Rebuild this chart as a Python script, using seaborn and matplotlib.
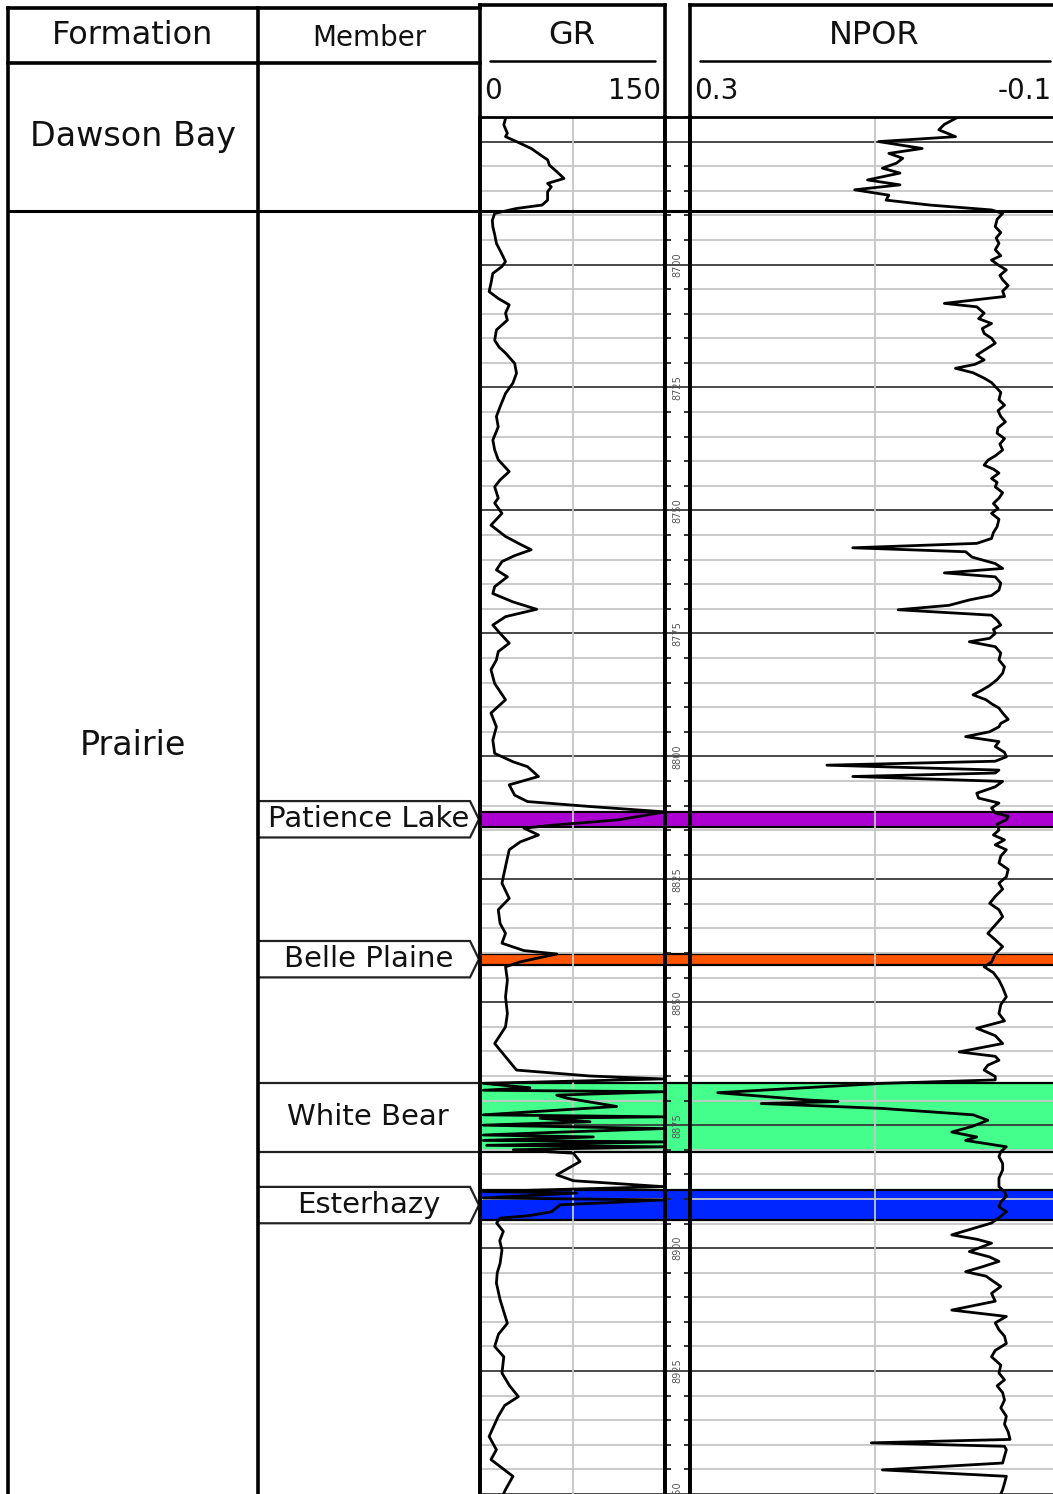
import numpy as np
import pandas as pd
import matplotlib
matplotlib.use("Agg")
import matplotlib.pyplot as plt
from matplotlib.patches import Polygon
import seaborn as sns

# ---------------- data ----------------
# GR log: (depth ft, GR API)
gr_points = [
    (8670.0, 21.0), (8670.3, 20.7), (8671.6, 19.3), (8673.3, 22.2), (8674.0, 20.7),
    (8675.0, 29.6), (8676.4, 41.5), (8677.7, 48.9), (8678.7, 54.8), (8679.8, 56.3),
    (8681.1, 62.2), (8682.5, 68.1), (8683.5, 54.8), (8684.2, 57.8), (8685.2, 54.8),
    (8686.9, 54.8), (8687.9, 50.4), (8688.6, 29.6), (8689.6, 11.9), (8691.0, 10.0),
    (8692.3, 10.4), (8694.0, 12.0), (8695.7, 13.3), (8697.5, 17.0), (8699.4, 20.7),
    (8700.4, 17.8), (8701.8, 10.4), (8703.8, 8.9), (8705.5, 7.4), (8706.9, 14.8),
    (8708.2, 23.7), (8709.9, 20.7), (8711.3, 22.2), (8713.3, 13.3), (8715.4, 11.9),
    (8716.8, 15.5), (8718.0, 20.7), (8720.1, 28.1), (8722.1, 29.6), (8724.1, 26.7),
    (8726.2, 20.7), (8728.9, 16.3), (8730.9, 13.3), (8733.0, 14.8), (8735.7, 10.4),
    (8737.7, 11.9), (8739.7, 14.8), (8742.1, 23.7), (8743.8, 16.3), (8745.2, 11.9),
    (8747.5, 14.8), (8748.5, 11.9), (8750.6, 17.8), (8753.0, 8.9), (8755.3, 20.7),
    (8756.8, 32.0), (8758.0, 41.5), (8759.2, 28.0), (8760.4, 17.8), (8762.1, 13.3),
    (8763.5, 22.2), (8765.5, 11.9), (8766.9, 10.4), (8768.6, 26.7), (8770.1, 45.9),
    (8771.6, 20.7), (8773.3, 10.4), (8775.0, 16.3), (8777.0, 23.7), (8778.7, 14.8),
    (8780.4, 13.3), (8782.4, 8.9), (8785.2, 11.9), (8788.5, 20.7), (8791.2, 8.9),
    (8794.0, 13.3), (8796.7, 10.4), (8799.4, 11.9), (8801.1, 26.7), (8802.1, 38.5),
    (8804.1, 47.4), (8805.8, 23.7), (8807.9, 28.1), (8809.2, 38.5), (8810.2, 88.9),
    (8811.3, 150.0), (8812.9, 112.6), (8814.0, 59.3), (8814.6, 35.6), (8816.0, 47.4),
    (8817.4, 32.6), (8819.0, 23.7), (8822.4, 20.7), (8825.8, 17.8), (8828.9, 23.7),
    (8831.2, 14.8), (8834.0, 16.3), (8836.0, 20.7), (8838.0, 17.8), (8839.5, 35.6),
    (8840.2, 62.2), (8841.8, 32.6), (8842.8, 20.7), (8845.5, 22.2), (8848.9, 20.7),
    (8852.3, 22.2), (8855.0, 20.7), (8858.4, 11.9), (8861.1, 20.7), (8863.8, 29.6),
    (8865.0, 88.9), (8865.6, 148.0), (8866.5, 2.7), (8867.4, 40.5), (8867.9, 2.7),
    (8868.2, 148.7), (8868.9, 62.2), (8869.5, 70.3), (8871.2, 110.8), (8872.9, 2.7),
    (8873.3, 148.7), (8873.6, 48.6), (8874.3, 89.2), (8875.0, 2.7), (8875.7, 148.7),
    (8876.4, 67.6), (8877.0, 2.7), (8877.4, 91.9), (8878.1, 2.7), (8878.4, 148.7),
    (8879.1, 5.4), (8879.4, 148.7), (8880.0, 27.0), (8880.7, 75.7), (8882.4, 81.1),
    (8885.1, 62.2), (8886.3, 75.7), (8887.5, 148.7), (8888.5, 2.7), (8888.8, 78.4),
    (8889.8, 2.7), (8890.2, 148.7), (8890.8, 100.0), (8891.2, 65.0), (8892.6, 58.0),
    (8893.4, 40.0), (8893.9, 16.2), (8894.9, 13.5), (8896.6, 18.9), (8898.5, 16.0),
    (8900.4, 17.8), (8903.1, 16.3), (8905.0, 14.0), (8907.1, 13.3), (8910.5, 16.3),
    (8915.3, 22.2), (8917.5, 15.0), (8920.0, 11.9), (8922.1, 19.3), (8925.4, 17.8),
    (8928.0, 24.0), (8930.2, 31.1), (8932.0, 20.0), (8934.2, 14.8), (8938.3, 7.4),
    (8941.0, 13.3), (8943.0, 8.9), (8946.4, 26.7), (8949.1, 20.7), (8950.0, 19.0),
]

# NPOR log: (depth ft, v/v)
npor_points = [
    (8670.0, 0.010), (8670.3, 0.013), (8671.5, 0.025), (8672.6, 0.031), (8674.0, 0.013),
    (8675.0, 0.096), (8676.4, 0.049), (8677.4, 0.085), (8678.4, 0.070), (8679.4, 0.077),
    (8680.4, 0.092), (8681.4, 0.073), (8682.8, 0.108), (8683.8, 0.073), (8684.8, 0.122),
    (8685.9, 0.085), (8686.9, 0.088), (8687.9, 0.041), (8688.9, -0.026), (8689.6, -0.038),
    (8690.8, -0.032), (8692.3, -0.030), (8693.5, -0.036), (8694.6, -0.031), (8695.7, -0.034),
    (8697.0, -0.030), (8698.2, -0.036), (8699.1, -0.026), (8700.2, -0.034), (8701.1, -0.042),
    (8702.2, -0.035), (8703.1, -0.038), (8704.3, -0.044), (8705.4, -0.038), (8706.5, -0.040),
    (8707.9, 0.025), (8708.6, -0.010), (8709.9, -0.018), (8711.0, -0.012), (8712.0, -0.026),
    (8713.0, -0.016), (8714.0, -0.018), (8715.0, -0.026), (8716.0, -0.030), (8717.2, -0.020),
    (8718.4, -0.010), (8719.4, -0.018), (8720.3, -0.008), (8721.1, 0.013), (8722.0, -0.006),
    (8723.1, -0.018), (8724.0, -0.026), (8724.8, -0.030), (8726.0, -0.036), (8727.5, -0.034),
    (8728.6, -0.040), (8729.7, -0.033), (8730.9, -0.036), (8732.0, -0.041), (8733.2, -0.033),
    (8734.3, -0.032), (8735.4, -0.040), (8736.5, -0.035), (8737.7, -0.038), (8738.9, -0.030),
    (8739.8, -0.022), (8740.8, -0.018), (8741.6, -0.028), (8742.4, -0.034), (8743.5, -0.026),
    (8744.3, -0.032), (8745.2, -0.030), (8746.4, -0.038), (8747.5, -0.034), (8748.6, -0.028),
    (8749.6, -0.033), (8750.6, -0.026), (8751.8, -0.034), (8753.3, -0.032), (8754.5, -0.028),
    (8755.7, -0.026), (8756.7, -0.010), (8757.6, 0.124), (8758.4, 0.002), (8759.5, -0.005),
    (8760.8, -0.030), (8761.8, -0.038), (8762.7, 0.025), (8763.5, -0.030), (8764.8, -0.036),
    (8766.2, -0.034), (8767.3, -0.026), (8768.2, -0.002), (8769.3, 0.020), (8770.2, 0.075),
    (8771.3, -0.026), (8772.3, -0.032), (8773.3, -0.036), (8774.2, -0.028), (8775.0, -0.030),
    (8776.0, -0.024), (8776.7, -0.002), (8777.7, -0.030), (8779.0, -0.036), (8780.4, -0.034),
    (8781.8, -0.040), (8783.1, -0.038), (8784.4, -0.032), (8785.6, -0.024), (8786.5, -0.016),
    (8787.5, -0.006), (8788.5, -0.020), (8789.3, -0.026), (8790.2, -0.034), (8791.2, -0.038),
    (8792.5, -0.044), (8793.3, -0.036), (8794.0, -0.034), (8795.0, -0.024), (8796.0, 0.002),
    (8797.0, -0.034), (8798.0, -0.030), (8799.2, -0.040), (8800.1, -0.042), (8801.0, -0.030),
    (8801.8, 0.152), (8802.8, -0.034), (8803.4, -0.030), (8804.1, 0.124), (8805.1, -0.038),
    (8806.2, -0.030), (8807.5, -0.010), (8808.5, -0.012), (8809.5, -0.034), (8810.5, -0.026),
    (8811.5, -0.030), (8812.2, -0.044), (8812.9, -0.042), (8813.8, -0.032), (8815.0, -0.034),
    (8816.0, -0.028), (8817.0, -0.040), (8818.0, -0.030), (8819.0, -0.042), (8820.3, -0.036),
    (8821.7, -0.034), (8823.0, -0.044), (8824.5, -0.042), (8825.8, -0.034), (8827.0, -0.038),
    (8828.5, -0.030), (8829.9, -0.024), (8831.2, -0.034), (8832.6, -0.038), (8834.3, -0.030),
    (8836.0, -0.022), (8837.3, -0.030), (8838.7, -0.038), (8840.2, -0.030), (8841.8, -0.026),
    (8842.8, -0.018), (8844.0, -0.028), (8845.5, -0.034), (8847.0, -0.038), (8848.9, -0.042),
    (8850.5, -0.036), (8852.3, -0.034), (8853.8, -0.040), (8855.3, -0.010), (8856.8, -0.030),
    (8858.4, -0.038), (8860.1, 0.009), (8861.0, -0.030), (8861.8, -0.034), (8862.8, -0.022),
    (8863.8, -0.018), (8865.1, -0.030), (8865.8, -0.030), (8866.5, 0.092), (8868.4, 0.270),
    (8869.9, 0.171), (8870.2, 0.140), (8870.6, 0.223), (8871.6, 0.092), (8872.9, -0.006),
    (8874.0, -0.022), (8875.2, -0.006), (8876.4, 0.017), (8877.4, -0.010), (8878.1, 0.002),
    (8879.4, -0.042), (8880.4, -0.036), (8881.4, -0.034), (8882.8, -0.038), (8884.1, -0.038),
    (8885.8, -0.034), (8887.5, -0.034), (8888.5, -0.040), (8889.5, -0.042), (8890.6, -0.036),
    (8891.6, -0.034), (8892.6, -0.042), (8893.8, -0.034), (8894.9, -0.026), (8895.8, -0.010),
    (8897.3, 0.017), (8898.2, -0.010), (8899.0, -0.026), (8900.7, -0.002), (8901.8, -0.024),
    (8902.7, -0.034), (8903.8, -0.016), (8904.8, 0.002), (8905.7, -0.020), (8906.5, -0.026),
    (8907.8, -0.036), (8909.2, -0.026), (8910.8, -0.030), (8912.6, 0.017), (8913.9, -0.042),
    (8915.2, -0.030), (8916.6, -0.034), (8917.9, -0.040), (8919.4, -0.042), (8920.8, -0.030),
    (8922.1, -0.026), (8923.8, -0.036), (8925.4, -0.034), (8926.8, -0.040), (8928.0, -0.032),
    (8929.4, -0.038), (8930.9, -0.040), (8932.5, -0.036), (8934.2, -0.042), (8935.8, -0.040),
    (8937.4, -0.044), (8938.9, -0.046), (8939.6, 0.104), (8940.3, -0.040), (8941.0, -0.042),
    (8942.3, -0.040), (8943.7, -0.038), (8945.1, 0.092), (8946.4, -0.042), (8947.8, -0.040),
    (8949.1, -0.038), (8950.0, -0.036),
]

formation_names = ["Dawson Bay", "Prairie"]
formation_base = [8689.1]
formation_label_depth = [None, 8797.7]

member_names = ["Patience Lake", "Belle Plaine", "White Bear", "Esterhazy"]
member_top = [8811.3, 8840.1, 8866.4, 8888.2]
member_base = [8814.3, 8842.4, 8880.4, 8894.3]
member_colors = ["#AC00D2", "#FF5500", "#45FF8C", "#0026FF"]
member_arrow = [True, True, False, True]

gr_range = (0, 150)
npor_range = (0.3, -0.1)
depth_top, depth_bottom = 8670, 8950

# ---------------- layout ----------------
sns.set_theme(style="white")
plt.rcParams['font.family'] = ['DejaVu Sans']

W, H = 1053, 1494
fig = plt.figure(figsize=(W / 100, H / 100), dpi=100)


def add_px_axes(x0, y0, x1, y1):
    return fig.add_axes([x0 / W, 1 - y1 / H, (x1 - x0) / W, (y1 - y0) / H])


TRACK_Y0 = 117
COL_Y0 = 63
px_per_ft = (H - TRACK_Y0) / (depth_bottom - depth_top)
col_top_depth = depth_top - (TRACK_Y0 - COL_Y0) / px_per_ft

ax_form = add_px_axes(8, COL_Y0, 258, H)
ax_mem = add_px_axes(258, COL_Y0, 480, H)
ax_gr = add_px_axes(480, TRACK_Y0, 665, H)
ax_dep = add_px_axes(665, TRACK_Y0, 690, H)
ax_np = add_px_axes(690, TRACK_Y0, 1060, H)

for ax in (ax_form, ax_mem):
    ax.set_xlim(0, 1)
    ax.set_ylim(depth_bottom, col_top_depth)
    ax.axis("off")

# formation column
ax_form.axhline(formation_base[0], color="black", lw=2.2)
ax_form.text(0.5, (col_top_depth + formation_base[0]) / 2, formation_names[0],
             ha="center", va="center", fontsize=24, color="#111")
ax_form.text(0.5, formation_label_depth[1], formation_names[1],
             ha="center", va="center", fontsize=24, color="#111")
ax_mem.axhline(formation_base[0], color="black", lw=2.2)

# member column boxes
for name, top, base, arrow in zip(member_names, member_top, member_base, member_arrow):
    mid = (top + base) / 2
    if arrow:
        t, b = mid - 3.7, mid + 3.7
        pts = [(0, t), (0.955, t), (0.995, mid), (0.955, b), (0, b)]
    else:
        t, b = top, base
        pts = [(0, t), (1, t), (1, b), (0, b)]
    ax_mem.add_patch(Polygon(pts, closed=True, facecolor="white",
                             edgecolor="#222", lw=1.6, zorder=2))
    ax_mem.text(0.497, mid, name, ha="center", va="center", fontsize=21,
                color="#111", zorder=3)

# tracks
for ax in (ax_gr, ax_dep, ax_np):
    ax.set_ylim(depth_bottom, depth_top)
    for top, base, col in zip(member_top, member_base, member_colors):
        ax.axhspan(top, base, facecolor=col, edgecolor="black", lw=1.6, zorder=0.5)
    ax.axhline(formation_base[0], color="black", lw=2.2, zorder=2)
    for sp in ("top", "bottom"):
        ax.spines[sp].set_visible(False)
    for sp in ("left", "right"):
        ax.spines[sp].set_color("black")
        ax.spines[sp].set_linewidth(2.6)
        ax.spines[sp].set_zorder(5)
    ax.set_xticks([])

grid_depths = list(range(depth_top, depth_bottom + 1, 5))
for ax in (ax_gr, ax_np):
    for d in grid_depths:
        if d % 25 == 0:
            ax.axhline(d, color="#3a3a3a", lw=1.3, zorder=1)
        else:
            ax.axhline(d, color="#c6c6c6", lw=1.3, zorder=1)
    ax.set_yticks([])

ax_gr.axvline(75, color="#c6c6c6", lw=1.3, zorder=1)
ax_np.axvline(0.1, color="#c6c6c6", lw=1.3, zorder=1)

gr_df = pd.DataFrame(gr_points, columns=["DEPTH", "GR"])
np_df = pd.DataFrame(npor_points, columns=["DEPTH", "NPOR"])
sns.lineplot(data=gr_df, x="GR", y="DEPTH", orient="y", sort=False, estimator=None,
             color="black", lw=2.0, ax=ax_gr, zorder=3)
sns.lineplot(data=np_df, x="NPOR", y="DEPTH", orient="y", sort=False, estimator=None,
             color="black", lw=2.0, ax=ax_np, zorder=3)
ax_gr.set_xlim(*gr_range)
ax_np.set_xlim(*npor_range)
for ax in (ax_gr, ax_np):
    ax.set_ylim(depth_bottom, depth_top)
    ax.set_xlabel("")
    ax.set_ylabel("")
    ax.set_xticks([])
    ax.set_yticks([])

# depth track
ax_dep.set_xlim(0, 1)
major = [d for d in grid_depths if d % 25 == 0]
minor = [d for d in grid_depths if d % 25 != 0]
ax_dep.set_yticks(major)
ax_dep.set_yticks(minor, minor=True)
ax_dep.tick_params(axis="y", which="minor", direction="in", left=True, right=True,
                   length=4, width=1.3, color="#222", labelleft=False, labelright=False)
ax_dep.tick_params(axis="y", which="major", length=0, labelleft=False, labelright=False)
for d in major:
    ax_dep.axhline(d, color="#3a3a3a", lw=1.3, zorder=1)
    if d >= 8700:
        ax_dep.text(0.5, d, f"{d}", rotation=90, ha="center", va="center",
                    fontsize=7, color="#555", zorder=4)

# ---------------- overlay: table frame and headers ----------------
ov = fig.add_axes([0, 0, 1, 1], zorder=10)
ov.set_xlim(0, W)
ov.set_ylim(H, 0)
ov.axis("off")
ov.patch.set_alpha(0)

lk = dict(color="black", lw=2.6, solid_capstyle="projecting")
ov.plot([8, 480], [8, 8], **lk)
ov.plot([8, 480], [63, 63], **lk)
ov.plot([8, 8], [8, H], **lk)
ov.plot([258, 258], [8, H], **lk)
ov.plot([480, 480], [5, H], **lk)
ov.plot([480, 665], [5, 5], **lk)
ov.plot([665, 665], [5, H], **lk)
ov.plot([690, 690], [5, H], **lk)
ov.plot([690, 1060], [5, 5], **lk)
ov.plot([480, 1060], [TRACK_Y0, TRACK_Y0], color="black", lw=2.0)
ov.plot([490, 655], [61, 61], color="black", lw=1.8)
ov.plot([700, 1050], [61, 61], color="black", lw=1.8)

ov.text(133, 36, "Formation", ha="center", va="center", fontsize=23, color="#111")
ov.text(369, 38, "Member", ha="center", va="center", fontsize=20, color="#111")
ov.text(572, 35, "GR", ha="center", va="center", fontsize=23, color="#111")
ov.text(874, 35, "NPOR", ha="center", va="center", fontsize=23, color="#111")
ov.text(484, 91, f"{gr_range[0]}", ha="left", va="center", fontsize=20, color="#111")
ov.text(661, 91, f"{gr_range[1]}", ha="right", va="center", fontsize=20, color="#111")
ov.text(694, 91, f"{npor_range[0]}", ha="left", va="center", fontsize=20, color="#111")
ov.text(1052, 91, f"{npor_range[1]}", ha="right", va="center", fontsize=20, color="#111")

fig.savefig("out.png", dpi=100, facecolor="white")
